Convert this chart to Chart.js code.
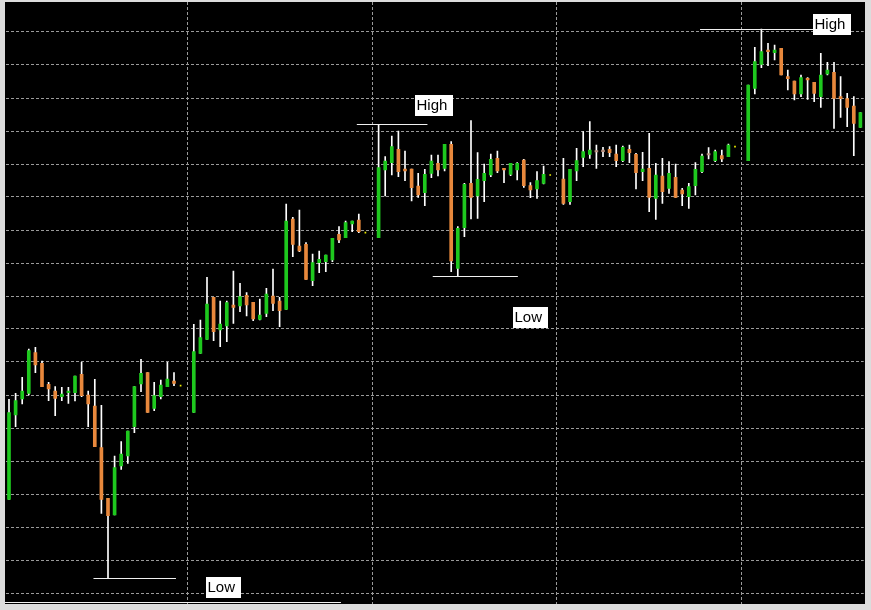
<!DOCTYPE html>
<html lang="en">
<head>
<meta charset="UTF-8">
<title>Candles</title>
<script src="https://cdn.jsdelivr.net/npm/chart.js"></script>
<style>
  body { margin: 0; background: #dcdcdc; }
  #wrap { width: 871px; height: 610px; }
</style>
</head>
<body>
<div id="wrap"><canvas id="priceChart" width="871" height="610"></canvas></div>
<script>
// candle values, one slot per bar, null = empty slot (session end / separator)
const opens = [
  110.7, 195, 211, 216.7, 257.3, 246.7, 225.7, 219, 213.3, 217.3, 217.3, 235.7, 215, 204, 162.3, 111.7, 95, 144, 154, 183.3, 226, 237.3, 201.7, 213.3, 223.3, 229, null, null,
  197.7, 256.7, 270.7, 312.7, 280, 284, 305, 304, 314.7, 307.7, 290.7, 296.7, 314, 309, 300.7, 391, 364, 365.7, 329.3, 347.3, 348.3, 350, 375.7, 372.3, 386, 390, null, null,
  372.3, 440, 447.3, 460.7, 441, 441, 424, 417.3, 436.7, 446.7, 441.7, 465.7, 341.7, 382.3, 426.7, 414, 429.3, 435, 451.7, 441.7, 435.7, 440, 450, 424.3, 421, 426.7, null, null,
  431, 408.3, 439, 452.7, 455.7, 458, 458.3, 460.7, 456, 449.3, 460.7, 455.7, 438.3, 441.7, 411.7, 434, 421.7, 432.7, 420, 413.3, 424.3, 438.3, 455, 449.3, 454.3, 453.3, null, null,
  449.3, 521.7, 545.7, 560, 557.3, 561.7, 533.3, 529, 516, 531.7, 527.7, 513.3, 536, 537.7, 513.3, 511.3, 504, 482.7
];
const highs = [
  210.7, 216.7, 232.7, 261, 262.7, 249, 227.7, 223.3, 222.7, 222.7, 234, 247.7, 219, 230.7, 204.7, 111.7, 154, 168.3, 179, 223.3, 250.7, 237.3, 227.7, 230, 247.7, 237.3, null, null,
  285.7, 290, 332.7, 312.7, 309, 309, 339, 326.7, 317.3, 307.7, 311, 321.7, 341, 312.7, 406, 392.7, 400, 367.3, 356, 359, 355, 371.7, 383.3, 389, 389, 396, null, null,
  485.7, 453.3, 474, 479, 459, 441, 436.7, 440.7, 455, 455, 465.7, 468.3, 383.3, 426.7, 489.3, 457.3, 446, 456, 459, 441.7, 446.7, 447.3, 450.7, 427.3, 438.3, 444, null, null,
  451.7, 440.7, 461.7, 478.3, 488.3, 465, 462.7, 463.3, 465, 464, 465, 456.7, 457.7, 476.7, 446.7, 451.7, 448.3, 446, 421.7, 426.7, 447.3, 456, 462.3, 460, 460, 466, null, null,
  525, 562.7, 581, 566.7, 565, 561.7, 540, 529, 535, 532.3, 527.7, 556.7, 547.7, 547.7, 533.3, 516.7, 513.3, 497.3
];
const lows = [
  110.7, 183.3, 206, 215, 237.3, 223.3, 209.3, 194.3, 209.3, 206.7, 209, 213.3, 183.3, 163.3, 96.7, 31.7, 95, 140.7, 146.7, 177.3, 218.3, 197.7, 199.3, 211, 223.3, 224.3, null, null,
  197.7, 256.7, 270.7, 269.3, 263.3, 268.3, 286.7, 298.3, 294, 289.3, 290, 293.3, 299.3, 283.3, 300.7, 353.3, 358.3, 330.7, 324.3, 337.3, 338.3, 348.3, 367.3, 372.3, 378.3, 377.3, null, null,
  372.3, 414, 435, 433.3, 429.3, 409, 412.7, 404.3, 432.3, 434, 439, 338.3, 334, 373.3, 391, 391.7, 408.3, 433.3, 437.3, 427.3, 434.3, 430, 422.7, 412.3, 411.7, 426, null, null,
  405.7, 405.7, 429.3, 443.3, 451.7, 441.7, 453.3, 453.3, 443.3, 448.3, 447.3, 421, 429.3, 398.3, 390.7, 406.7, 416.7, 412.7, 404.3, 401.7, 415, 437.3, 451, 448.3, 448.3, 453.3, null, null,
  449.3, 516, 542.3, 544.3, 550, 535, 520, 510, 513.3, 510.7, 508.3, 502.7, 535, 481.7, 492.7, 483.3, 454.3, 482.7
];
const closes = [
  197.3, 209.3, 219, 259.3, 245, 223.3, 221, 211.7, 216, 219, 234, 214.3, 206, 163.3, 110.7, 94.3, 142.3, 156, 179, 223.3, 236.7, 197.7, 214.3, 225, 231, 226.7, null, null,
  258.3, 272.3, 306, 278.3, 286, 307.3, 302.7, 313.3, 305, 291, 295, 316, 306.7, 299.3, 389, 365.7, 359, 330.7, 347.3, 350.7, 355, 371.7, 370, 387.3, 389, 378.3, null, null,
  442.3, 449, 463.3, 438.3, 439, 422.3, 415, 435.7, 449, 440, 465.7, 349, 381.7, 425.7, 412.7, 430.7, 436.7, 450.7, 439, 440, 446.7, 446.7, 424.3, 420, 429.3, 435.7, null, null,
  406.7, 440.7, 449.3, 458.3, 460, 458, 458.3, 457.3, 449.3, 462.7, 457.3, 437.3, 441, 412.7, 435, 418.3, 436.7, 412.7, 416, 423.3, 440.7, 454, 455, 458.3, 451, 465, null, null,
  525, 548.3, 558.3, 558.3, 560, 535, 531.3, 516, 532.3, 530, 516.7, 535, 540, 511.7, 511.3, 502.7, 486.7, 497.3
];
// small yellow marks at the end of each session
const sessionMarks = opens.map(() => null);
sessionMarks[26] = 224.3;
sessionMarks[54] = 377.3;
sessionMarks[82] = 435;
sessionMarks[110] = 463.3;

// horizontal price grid
const gridLevels = [17, 50, 83, 116, 149, 182, 215, 248, 281, 314, 347, 380, 413, 446, 479, 512, 545, 578];

// High / Low level lines: price taken from a bar, span and label anchor in bar units
const levels = [
  { text: 'Low', kind: 'low', bar: 15, from: 12.8, to: 25.3, labelBar: 29.8, labelTop: 33 },
  { text: 'High', kind: 'high', bar: 56, from: 52.7, to: 63.4, labelBar: 61.5, labelTop: 515 },
  { text: 'Low', kind: 'low', bar: 68, from: 64.2, to: 77.1, labelBar: 76.4, labelTop: 303 },
  { text: 'High', kind: 'high', bar: 114, from: 104.7, to: 121.9, labelBar: 121.8, labelTop: 596 },
  { text: '', kind: 'price', price: 8.3, from: -0.6, to: 50.3 }
];

const slots = opens.map((_, i) => 'bar ' + i);
const sepSlots = opens.map((o, i) => (o === null && sessionMarks[i] === null) ? i : -1).filter(i => i >= 0);

const UP = '#1ec81e', DOWN = '#e8883c', FLAT = '#b89080', GRID = '#9a9a9a';

const bodies = opens.map((o, i) => o === null ? null : [o, closes[i]]);
const wicks = lows.map((l, i) => l === null ? null : [l, highs[i]]);
const bodyColors = opens.map((o, i) => o === null ? UP : (closes[i] > o ? UP : closes[i] < o ? DOWN : FLAT));

// grey frame + black plot area
const backdrop = {
    id: 'backdrop',
    beforeDraw(chart) {
        const { ctx, chartArea: a } = chart;
        ctx.save();
        ctx.fillStyle = '#dcdcdc';
        ctx.fillRect(0, 0, chart.width, chart.height);
        ctx.fillStyle = '#000';
        ctx.fillRect(Math.floor(a.left), Math.floor(a.top), Math.ceil(a.right) + 1 - Math.floor(a.left), Math.ceil(a.bottom) - Math.floor(a.top));
        ctx.restore();
    }
};

const levelLines = {
    id: 'levelLines',
    afterDatasetsDraw(chart) {
        const { ctx, scales: { x, y } } = chart;
        const x0 = x.getPixelForValue(0);
        const step = x.getPixelForValue(1) - x0;
        const bx = b => x0 + b * step;
        ctx.save();
        ctx.font = '15px "Liberation Sans", Arial, sans-serif';
        ctx.textBaseline = 'middle';
        levels.forEach(l => {
            const price = l.kind === 'high' ? highs[l.bar] : l.kind === 'low' ? lows[l.bar] : l.price;
            const py = Math.round(y.getPixelForValue(price)) + 0.5;
            ctx.strokeStyle = '#f0f0f0';
            ctx.lineWidth = 1;
            ctx.beginPath();
            ctx.moveTo(bx(l.from), py);
            ctx.lineTo(bx(l.to), py);
            ctx.stroke();
            if (l.text) {
                const left = Math.round(bx(l.labelBar));
                const top = Math.round(y.getPixelForValue(l.labelTop));
                const w = Math.round(ctx.measureText(l.text).width) + 7;
                ctx.fillStyle = '#fff';
                ctx.fillRect(left, top, w, 21);
                ctx.fillStyle = '#000';
                ctx.fillText(l.text, left + 1.5, top + 11);
            }
        });
        ctx.restore();
    }
};

new Chart(document.getElementById('priceChart'), {
    type: 'bar',
    data: {
        labels: slots,
        datasets: [
            { label: 'body', data: bodies, backgroundColor: bodyColors, barThickness: 3, minBarLength: 1.5, grouped: false, order: 0, borderWidth: 0 },
            { label: 'wick', data: wicks, backgroundColor: '#ffffff', barThickness: 1, grouped: false, order: 1, borderWidth: 0 },
            { type: 'line', label: 'mark', data: sessionMarks, showLine: false, pointStyle: 'rect', pointRadius: 1.2, pointBorderWidth: 0, pointBackgroundColor: '#e8e800', order: -1 }
        ]
    },
    options: {
        responsive: false,
        animation: false,
        devicePixelRatio: 1,
        layout: { autoPadding: false, padding: { left: 5.7, right: 7.3, top: 2, bottom: 6 } },
        plugins: { legend: { display: false }, tooltip: { enabled: false } },
        scales: {
            x: {
                offset: true,
                ticks: { display: false, autoSkip: false },
                grid: { offset: false, drawTicks: false, lineWidth: 1, color: c => sepSlots.includes(c.index) ? GRID : 'rgba(0,0,0,0)' },
                border: { display: false, dash: [3, 2] }
            },
            y: {
                min: 6,
                max: 608,
                afterBuildTicks: axis => { axis.ticks = gridLevels.map(v => ({ value: v })); },
                ticks: { display: false },
                grid: { drawTicks: false, lineWidth: 1, color: GRID },
                border: { display: false, dash: [3, 2] }
            }
        }
    },
    plugins: [backdrop, levelLines]
});
</script>
</body>
</html>
